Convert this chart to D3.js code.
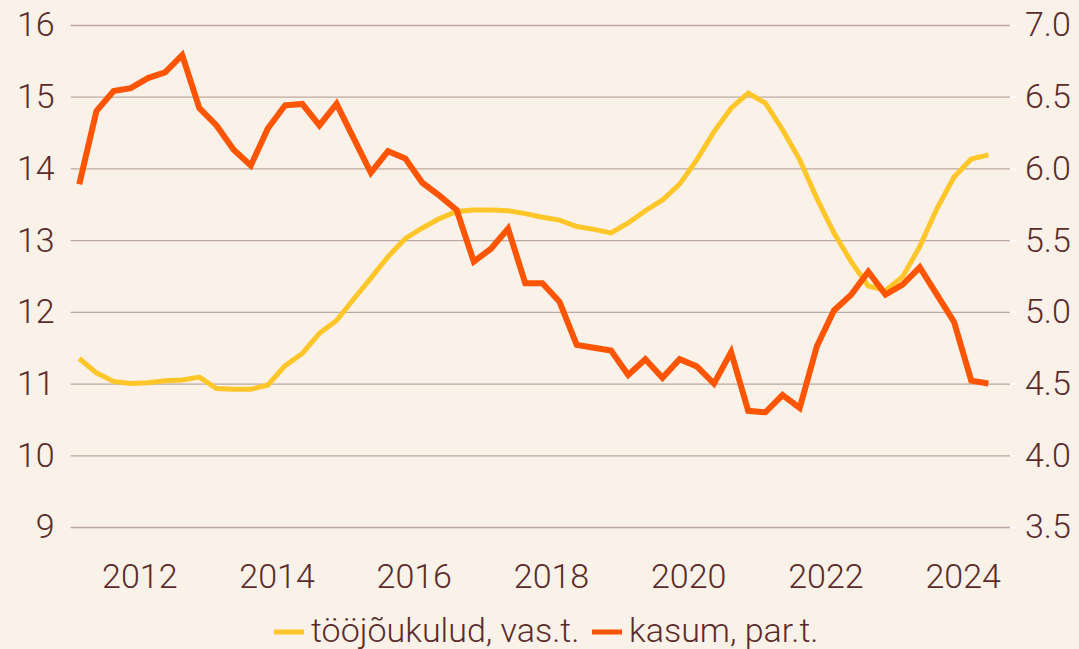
<!DOCTYPE html>
<html>
<head>
<meta charset="utf-8">
<script src="https://cdn.jsdelivr.net/npm/d3@7"></script>
<style>
  html, body { margin: 0; padding: 0; background: #faf1e8; }
  svg { display: block; }
  text { font-family: Roboto, "Noto Sans", sans-serif; font-weight: 300; fill: #5a2b2b; }
</style>
</head>
<body>
<svg id="chart" width="1079" height="649"></svg>
<script>
const quarters = [
  "2011Q1","2011Q2","2011Q3","2011Q4","2012Q1","2012Q2","2012Q3","2012Q4",
  "2013Q1","2013Q2","2013Q3","2013Q4","2014Q1","2014Q2","2014Q3","2014Q4",
  "2015Q1","2015Q2","2015Q3","2015Q4","2016Q1","2016Q2","2016Q3","2016Q4",
  "2017Q1","2017Q2","2017Q3","2017Q4","2018Q1","2018Q2","2018Q3","2018Q4",
  "2019Q1","2019Q2","2019Q3","2019Q4","2020Q1","2020Q2","2020Q3","2020Q4",
  "2021Q1","2021Q2","2021Q3","2021Q4","2022Q1","2022Q2","2022Q3","2022Q4",
  "2023Q1","2023Q2","2023Q3","2023Q4","2024Q1","2024Q2"
];
// tööjõukulud (left axis)
const laborCosts = [
  11.35, 11.15, 11.03, 11.00, 11.01, 11.04, 11.05, 11.09,
  10.93, 10.92, 10.92, 10.98, 11.25, 11.42, 11.70, 11.88,
  12.18, 12.47, 12.77, 13.02, 13.17, 13.30, 13.40, 13.42,
  13.42, 13.41, 13.37, 13.32, 13.28, 13.19, 13.15, 13.10,
  13.24, 13.41, 13.56, 13.78, 14.12, 14.51, 14.84, 15.05,
  14.91, 14.54, 14.12, 13.58, 13.10, 12.70, 12.36, 12.30,
  12.49, 12.91, 13.44, 13.88, 14.13, 14.19
];
// kasum (right axis)
const profit = [
  5.89, 6.40, 6.54, 6.56, 6.63, 6.67, 6.79, 6.42,
  6.30, 6.13, 6.02, 6.28, 6.44, 6.45, 6.30, 6.45,
  6.21, 5.97, 6.12, 6.07, 5.90, 5.81, 5.71, 5.35,
  5.44, 5.58, 5.20, 5.20, 5.07, 4.77, 4.75, 4.73,
  4.56, 4.67, 4.54, 4.67, 4.62, 4.50, 4.72, 4.31,
  4.30, 4.42, 4.33, 4.76, 5.01, 5.12, 5.28, 5.12,
  5.19, 5.31, 5.12, 4.93, 4.52, 4.50
];
const yearTicks = [2012, 2014, 2016, 2018, 2020, 2022, 2024];
const leftTicks = [9, 10, 11, 12, 13, 14, 15, 16];
const rightTicks = [3.5, 4.0, 4.5, 5.0, 5.5, 6.0, 6.5, 7.0];
const seriesNames = ["tööjõukulud, vas.t.", "kasum, par.t."];
const colors = ["#ffc629", "#ff5500"];

const svg = d3.select("#chart");
const plotLeft = 70.7, plotRight = 1010, plotTop = 25, plotBottom = 527;

const toTime = q => +q.slice(0, 4) + (+q.slice(5) - 1) / 4 + 0.125;
const x = d3.scaleLinear().domain([2011, 2024.69]).range([plotLeft, plotRight]);
const yL = d3.scaleLinear().domain([9, 16]).range([plotBottom, plotTop]);
const yR = d3.scaleLinear().domain([3.5, 7.0]).range([plotBottom, plotTop]);

// gridlines + left axis
const gL = svg.append("g").attr("transform", `translate(${plotLeft},0)`)
  .call(d3.axisLeft(yL).tickValues(leftTicks).tickFormat(d3.format("d"))
    .tickSize(-(plotRight - plotLeft)).tickPadding(16));
gL.select(".domain").remove();
gL.selectAll(".tick line").attr("stroke", "#bba8a2").attr("stroke-width", 1.3);
gL.selectAll(".tick text").attr("font-size", 34).attr("x", -16);

// right axis
const gR = svg.append("g").attr("transform", `translate(${plotRight},0)`)
  .call(d3.axisRight(yR).tickValues(rightTicks).tickFormat(d3.format(".1f"))
    .tickSize(7).tickPadding(8));
gR.select(".domain").remove();
gR.selectAll(".tick line").attr("stroke", "#ffffff").attr("stroke-width", 1.3);
gR.selectAll(".tick text").attr("font-size", 34);

// x axis
const gX = svg.append("g").attr("transform", `translate(0,${plotBottom})`)
  .call(d3.axisBottom(x).tickValues(yearTicks).tickFormat(d3.format("d"))
    .tickSize(0).tickPadding(37));
gX.select(".domain").remove();
gX.selectAll(".tick text").attr("font-size", 34);

// lines
const lineL = d3.line().x((d, i) => x(toTime(quarters[i]))).y(d => yL(d));
const lineR = d3.line().x((d, i) => x(toTime(quarters[i]))).y(d => yR(d));

svg.append("path").datum(laborCosts)
  .attr("fill", "none").attr("stroke", colors[0]).attr("stroke-width", 5)
  .attr("stroke-linejoin", "miter").attr("d", lineL);
svg.append("path").datum(profit)
  .attr("fill", "none").attr("stroke", colors[1]).attr("stroke-width", 6)
  .attr("stroke-linejoin", "miter").attr("d", lineR);

// legend
const legend = svg.append("g");
const legendItems = [
  { name: seriesNames[0], color: colors[0], x0: 274 },
  { name: seriesNames[1], color: colors[1], x0: 592 }
];
legendItems.forEach(it => {
  legend.append("line").attr("x1", it.x0).attr("x2", it.x0 + 30)
    .attr("y1", 632).attr("y2", 632)
    .attr("stroke", it.color).attr("stroke-width", 5);
  legend.append("text").attr("x", it.x0 + 37).attr("y", 642)
    .attr("font-size", 34).text(it.name);
});
</script>
</body>
</html>
